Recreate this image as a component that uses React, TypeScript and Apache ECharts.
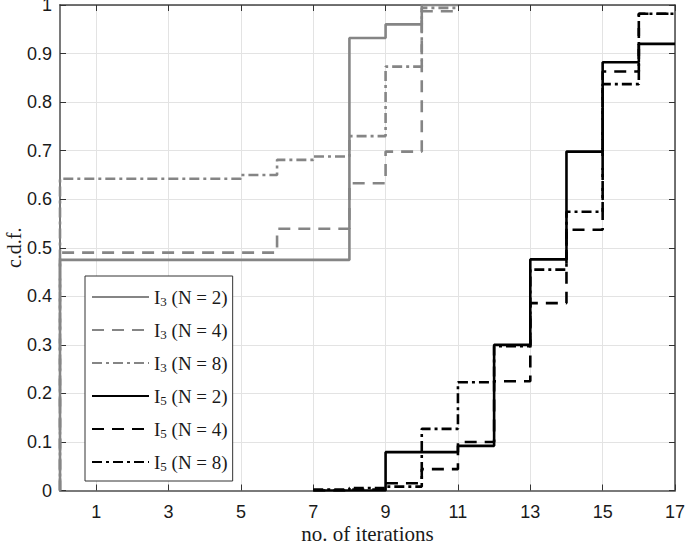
import React, { useEffect, useRef } from "react";
import * as echarts from "echarts";

// Step positions (no. of iterations) and c.d.f. values
const i3n2X = [0, 0, 8, 9, 10, 11];
const i3n2Y = [0, 0.475, 0.932, 0.96, 1.0, 1.0];
const i3n4X = [0, 0, 6, 8, 9, 10, 11];
const i3n4Y = [0, 0.49, 0.539, 0.633, 0.698, 0.987, 0.987];
const i3n8X = [0, 0, 5, 6, 7, 8, 9, 10, 11];
const i3n8Y = [0, 0.642, 0.65, 0.681, 0.688, 0.73, 0.873, 0.994, 0.994];
const i5n2X = [7, 9, 11, 12, 13, 14, 15, 16, 17];
const i5n2Y = [0, 0.079, 0.092, 0.3, 0.476, 0.698, 0.882, 0.92, 0.92];
const i5n4X = [7, 8, 9, 10, 11, 12, 13, 14, 15, 16, 17];
const i5n4Y = [0, 0.002, 0.015, 0.044, 0.1, 0.225, 0.386, 0.537, 0.863, 0.982, 0.982];
const i5n8X = [7, 8, 9, 10, 11, 12, 13, 14, 15, 16, 17];
const i5n8Y = [0.002, 0.005, 0.008, 0.127, 0.223, 0.297, 0.455, 0.574, 0.837, 0.982, 0.982];

const xTicks = [1, 3, 5, 7, 9, 11, 13, 15, 17];
const seriesNames = ["I3 (N = 2)", "I3 (N = 4)", "I3 (N = 8)", "I5 (N = 2)", "I5 (N = 4)", "I5 (N = 8)"];

const GRAY = "#858585";
const BLACK = "#000000";
const DASHED = [12, 8];
const DASHDOT = [10, 4, 3, 4];
const SERIF = "'Liberation Serif', 'Times New Roman', serif";
const SANS = "'Liberation Sans', Arial, Helvetica, sans-serif";

function zip(xs: number[], ys: number[]) {
  return xs.map((x, i) => [x, ys[i]]);
}

export default function App() {
  const ref = useRef<HTMLDivElement>(null);
  useEffect(() => {
    if (!ref.current) return;
    const chart = echarts.init(ref.current, undefined, { renderer: "svg" });
    const mk = (name: string, xs: number[], ys: number[], color: string, type: any, z: number) => ({
      name,
      type: "line",
      step: "end",
      data: zip(xs, ys),
      symbol: "none",
      showSymbol: false,
      z,
      lineStyle: { color, width: 2.6, type, cap: "butt" },
      itemStyle: { color },
    });
    chart.setOption({
      animation: false,
      backgroundColor: "#ffffff",
      grid: { left: 60, right: 10, top: 5, bottom: 55.5, containLabel: false, outerBoundsMode: "none" },
      xAxis: [
        {
          type: "value",
          min: 0,
          max: 17,
          name: "no. of iterations",
          nameLocation: "middle",
          nameGap: 33,
          nameMoveOverlap: false,
          nameTextStyle: { fontFamily: SERIF, fontSize: 21, color: "#1a1a1a" },
          axisLine: { show: true, onZero: false, lineStyle: { color: "#7a7a7a", width: 2 } },
          axisTick: { show: true, inside: true, length: 6, customValues: xTicks, lineStyle: { color: "#333" } },
          axisLabel: { customValues: xTicks, fontFamily: SANS, fontSize: 18, color: "#1a1a1a", margin: 12 },
          splitLine: { show: true, lineStyle: { color: "#e3e3e3", width: 1 } },
        },
        {
          type: "value",
          position: "top",
          min: 0,
          max: 17,
          axisLine: { show: true, onZero: false, lineStyle: { color: "#444", width: 1.5 } },
          axisTick: { show: true, inside: true, length: 6, customValues: xTicks, lineStyle: { color: "#333" } },
          axisLabel: { show: false },
          splitLine: { show: false },
        },
      ],
      yAxis: [
        {
          type: "value",
          min: 0,
          max: 1,
          interval: 0.1,
          name: "c.d.f.",
          nameLocation: "middle",
          nameRotate: 90,
          nameGap: 36,
          nameMoveOverlap: false,
          nameTextStyle: { fontFamily: SERIF, fontSize: 20, color: "#1a1a1a" },
          axisLine: { show: true, onZero: false, lineStyle: { color: "#7a7a7a", width: 2 } },
          axisTick: { show: true, inside: true, length: 6, lineStyle: { color: "#333" } },
          axisLabel: { fontFamily: SANS, fontSize: 18, color: "#1a1a1a", margin: 8 },
          splitLine: { show: true, lineStyle: { color: "#e3e3e3", width: 1 } },
        },
        {
          type: "value",
          position: "right",
          min: 0,
          max: 1,
          interval: 0.1,
          axisLine: { show: true, onZero: false, lineStyle: { color: "#444", width: 1.5 } },
          axisTick: { show: true, inside: true, length: 6, lineStyle: { color: "#333" } },
          axisLabel: { show: false },
          splitLine: { show: false },
        },
      ],
      legend: {
        data: seriesNames,
        orient: "vertical",
        left: 85,
        top: 276,
        itemWidth: 57,
        itemHeight: 14,
        itemGap: 9,
        padding: [8, 5, 8, 6],
        backgroundColor: "#ffffff",
        borderColor: "#333",
        borderWidth: 1,
        itemStyle: { opacity: 0 },
        formatter: (name: string) => `{b|${name[0]}}{s|${name[1]}}{b|${name.slice(2)}}`,
        textStyle: {
          fontFamily: SERIF,
          fontSize: 19,
          color: "#1a1a1a",
          rich: {
            b: { fontFamily: SERIF, fontSize: 19, color: "#1a1a1a", lineHeight: 22, verticalAlign: "middle" },
            s: { fontFamily: SERIF, fontSize: 13, color: "#1a1a1a", lineHeight: 22, verticalAlign: "bottom", padding: [11, 0, 0, 0] },
          },
        },
      },
      series: [
        mk(seriesNames[0], i3n2X, i3n2Y, GRAY, "solid", 3),
        mk(seriesNames[1], i3n4X, i3n4Y, GRAY, DASHED, 2),
        mk(seriesNames[2], i3n8X, i3n8Y, GRAY, DASHDOT, 2),
        mk(seriesNames[3], i5n2X, i5n2Y, BLACK, "solid", 4),
        mk(seriesNames[4], i5n4X, i5n4Y, BLACK, DASHED, 3),
        mk(seriesNames[5], i5n8X, i5n8Y, BLACK, DASHDOT, 3),
      ],
    });
    return () => chart.dispose();
  }, []);
  return <div ref={ref} style={{ width: 685, height: 546, position: "absolute", left: 0, top: 0 }} />;
}
